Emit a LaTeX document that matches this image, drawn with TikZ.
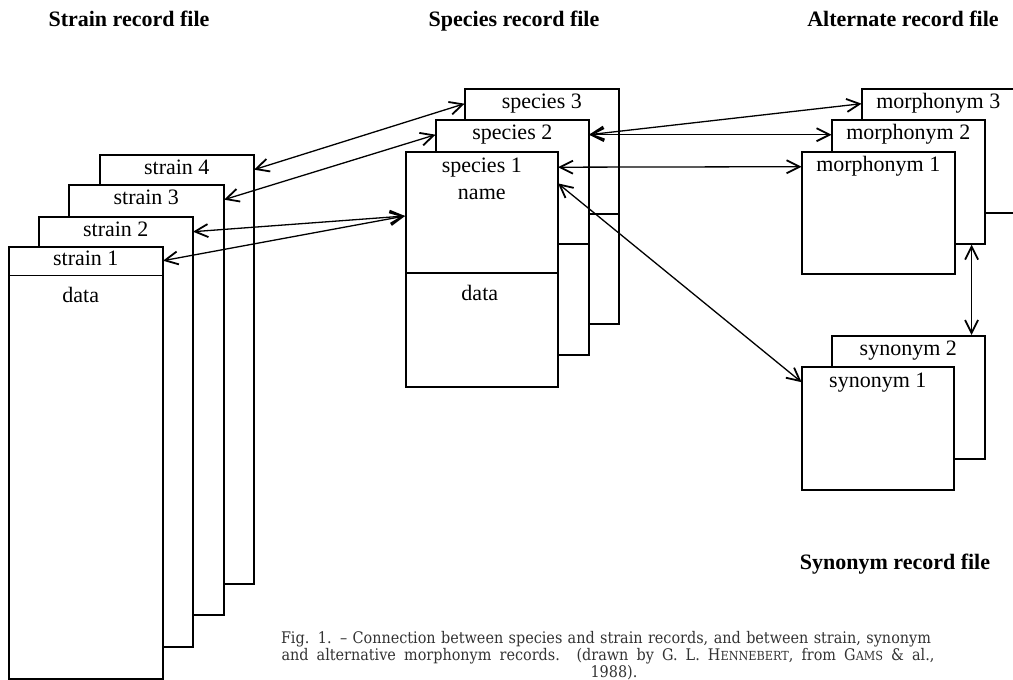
\documentclass[tikz,border=0pt]{standalone}
\usepackage{fontspec}
\setmainfont{Liberation Serif}
\newfontfamily\capfont{DejaVu Serif}[FakeStretch=0.9]
% small capitals imitated with smaller upper-case letters
\newcommand\smallcaps[1]{{\fontsize{12.5}{14}\selectfont #1}}
\usetikzlibrary{arrows.meta,calc}

\begin{document}
\begin{tikzpicture}[x=1pt,y=-1pt,
  rec/.style={draw, fill=white, line width=1.6pt, inner sep=0pt, anchor=north west},
  hdr/.style={inner sep=0pt, minimum height=31pt, anchor=north,
    text height=15pt, text depth=5pt, font=\fontsize{22}{25}\selectfont},
  lbl/.style={inner sep=0pt, font=\fontsize{22}{25}\selectfont},
  ttl/.style={inner sep=0pt, anchor=base, font=\bfseries\fontsize{22}{26}\selectfont},
  capt/.style={inner sep=0pt, anchor=base, text=black!80, font=\capfont\fontsize{16}{18}\selectfont},
  divider/.style={line width=1.6pt},
  recbarb/.tip={Straight Barb[length=13pt,width=13pt,line width=1.8pt]},
  link/.style={line width=1.3pt, recbarb-recbarb},
]
\useasboundingbox (0,0) rectangle (1013,680);

% titles
\node[ttl] (tstrain) at (129,26) {Strain record file};
\node[ttl] (tspecies) at (514,26) {Species record file};
\node[ttl] (talt) at (903,26) {Alternate record file};
\node[ttl] (tsyn) at (895,569) {Synonym record file};

% strain record file
\node[rec, minimum width=154pt, minimum height=429pt] (st4) at (99,154) {};
\node[hdr, minimum width=154pt] (st4h) at (st4.north) {strain 4};
\node[rec, minimum width=155pt, minimum height=430pt] (st3) at (68,184) {};
\node[hdr, minimum width=155pt] (st3h) at (st3.north) {strain 3};
\node[rec, minimum width=154pt, minimum height=430pt] (st2) at (38,216) {};
\node[hdr, minimum width=154pt] (st2h) at (st2.north) {strain 2};
\node[rec, minimum width=154pt, minimum height=432pt] (st1) at (8,246) {};
\node[hdr, minimum width=154pt, minimum height=29pt] (st1h) at (st1.north) {strain 1};
\draw[divider] (st1h.south west) -- (st1h.south east);
\node[lbl] (st1d) at ($(st1.north)+(-5,49)$) {data};

% species record file
\node[rec, minimum width=154pt, minimum height=235pt] (sp3) at (464,88) {};
\draw[divider] ($(sp3.north west)+(0,126)$) -- ($(sp3.north east)+(0,126)$);
\node[hdr, minimum width=154pt] (sp3h) at (sp3.north) {species 3};
\node[rec, minimum width=153pt, minimum height=235pt] (sp2) at (435,119) {};
\draw[divider] ($(sp2.north west)+(0,125)$) -- ($(sp2.north east)+(0,125)$);
\node[hdr, minimum width=153pt] (sp2h) at (sp2.north) {species 2};
\node[rec, minimum width=152pt, minimum height=235pt] (sp1) at (405,151) {};
\draw[divider] ($(sp1.north west)+(0,122)$) -- ($(sp1.north east)+(0,122)$);
\node[hdr, minimum width=152pt, minimum height=32pt] (sp1h) at (sp1.north) {species 1};
\node[lbl] (sp1n) at ($(sp1.north)+(0,43)$) {name};
\node[lbl] (sp1d) at ($(sp1.north)+(-2,142)$) {data};
\coordinate (sp1in) at ($(sp1.north west)+(0,65)$);

% alternate (morphonym) record file
\node[rec, minimum width=153pt, minimum height=124pt] (m3) at (861,88) {};
\node[hdr, minimum width=153pt] (m3h) at (m3.north) {morphonym 3};
\node[rec, minimum width=153pt, minimum height=124pt] (m2) at (831,119) {};
\node[hdr, minimum width=153pt] (m2h) at (m2.north) {morphonym 2};
\node[rec, minimum width=153pt, minimum height=122pt] (m1) at (801,151) {};
\node[hdr, minimum width=153pt] (m1h) at (m1.north) {morphonym 1};

% synonym record file
\node[rec, minimum width=153pt, minimum height=123pt] (sy2) at (831,335) {};
\node[hdr, minimum width=153pt] (sy2h) at (sy2.north) {synonym 2};
\node[rec, minimum width=152pt, minimum height=123pt] (sy1) at (801,366) {};
\node[hdr, minimum width=152pt, minimum height=32pt] (sy1h) at (sy1.north) {synonym 1};

% links between records
\draw[link] (st4h.east) -- (sp3h.west);
\draw[link] (st3h.east) -- (sp2h.west);
\draw[link] (st2h.east) -- (sp1in);
\draw[link] (st1h.east) -- (sp1in);
\draw[link] (sp2h.east) -- (m3h.west);
\draw[link] (sp2h.east) -- (m2h.west);
\draw[link] (sp1h.east) -- (m1h.west);
\draw[link] (sp1h.south east) -- (sy1h.west);
\coordinate (mfoot) at ($(m2.south east)+(-14,0)$);
\coordinate (shead) at ($(sy2.north east)+(-14,0)$);
\draw[link] (mfoot) -- (shead);

% caption
\node[capt] (cap1) at (606,643) {\makebox[650pt][s]{Fig. 1. – Connection between species and strain records, and between strain, synonym}};
\node[capt] (cap2) at (608,660) {\makebox[653pt][s]{and alternative morphonym records. (drawn by G. L. H\smallcaps{ENNEBERT}, from G\smallcaps{AMS} \& al.,}};
\node[capt] (cap3) at (614,677) {1988).};
\end{tikzpicture}
\end{document}
